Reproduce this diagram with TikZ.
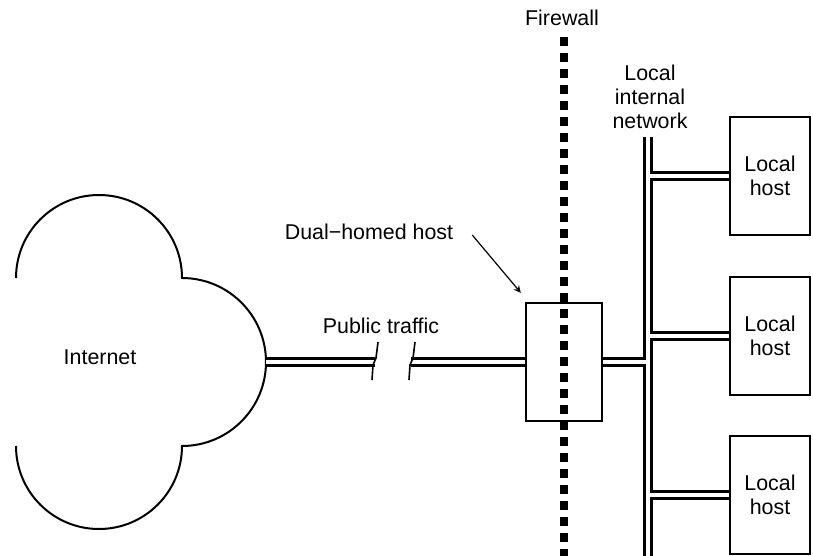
\documentclass[tikz,border=0pt]{standalone}
\usepackage{fontspec}
\setmainfont{Liberation Sans}
\usetikzlibrary{arrows}
\usetikzlibrary{positioning}

\begin{document}
\begin{tikzpicture}[x=0.5pt, y=-0.5pt,
			every node/.style={font=\fontsize{10.7}{12}\selectfont},
			every text node part/.style={align=center},
			hostbox/.style={draw, line width=1.2pt, rectangle, minimum width=40pt, minimum height=59pt, inner sep=2pt},
			pipe/.style={draw, line width=1.3pt, double=white, double distance=2.3pt},
			lan/.style={draw, line width=1.2pt, double=white, double distance=2.2pt},
			brk/.style={draw, line width=0.8pt},
			wall/.style={draw, line width=4pt, dash pattern=on 4.5pt off 3.5pt}]
			\useasboundingbox (0,0) rectangle (813,556);
			
			% the cloud, open on its left side
			\draw[line width=1pt] (16,278) arc[start angle=180, end angle=360, radius=83]
				arc[start angle=-90, end angle=90, radius=84]
				arc[start angle=0, end angle=180, radius=83];
			\node(inet) at (100,357) {Internet};
			\coordinate(cloudE) at (266,362);
			
			\node[hostbox, minimum width=38pt](dual) at (564,362) {};
			\node[align=center](duallabel) at (369,232) {Dual−homed host};
			\draw[->,>=stealth, line width=0.6pt] ([shift={(12,3)}]duallabel.east) -- ([shift={(-4,-9)}]dual.north west);
			
			% public traffic, with a break
			\coordinate(brkA) at (375,362);
			\coordinate(brkB) at (411,362);
			\draw[pipe] (cloudE) -- (brkA);
			\draw[pipe] (brkB) -- (brkB -| dual.west);
			\draw[brk] ([shift={(3,-20)}]brkA) -- ([shift={(1,-4)}]brkA) -- ([shift={(-2,3)}]brkA) -- ([shift={(-3,18)}]brkA);
			\draw[brk] ([shift={(4,-20)}]brkB) -- ([shift={(2,-4)}]brkB) -- ([shift={(-1,3)}]brkB) -- ([shift={(-2,18)}]brkB);
			\node(publabel) at (381,326) {Public traffic};
			
			% local hosts
			\node[hostbox](host1) at (770,176) {Local \\ host};
			\node[hostbox](host2) at (770,336) {Local \\ host};
			\node[hostbox](host3) at (770,495) {Local \\ host};
			
			% local internal network
			\node(lanlabel) at (650,97) {Local \\ internal \\ network};
			\coordinate(lanTop) at (648,137);
			\coordinate(lanBot) at (648,556);
			\draw[lan] (lanTop) -- (lanBot)
				(dual.east) -- (dual.east -| lanTop)
				(host1.west -| lanTop) -- (host1.west)
				(host2.west -| lanTop) -- (host2.west)
				(host3.west -| lanTop) -- (host3.west);
			
			% firewall
			\node(fwlabel) at (562,18) {Firewall};
			\coordinate(fwTop) at (564,37);
			\coordinate(fwBot) at (564,556);
			\draw[wall] (fwTop) -- (fwBot);
			\end{tikzpicture}
\end{document}
